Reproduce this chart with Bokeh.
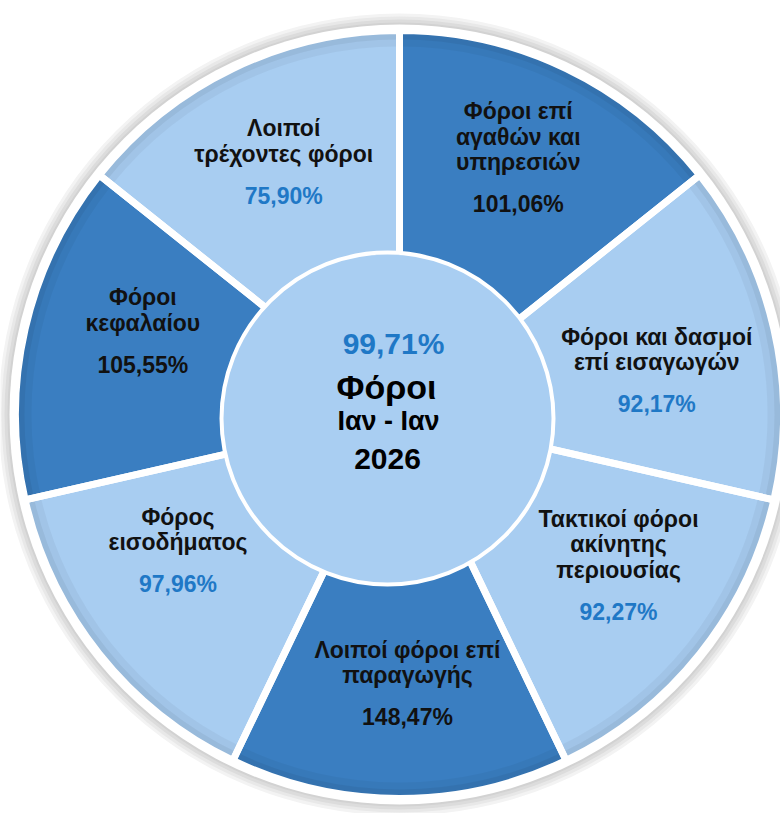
import numpy as np
from bokeh.plotting import figure
from bokeh.models import Range1d, ColumnDataSource
from bokeh.core.properties import value
from bokeh.embed import file_html
from bokeh.resources import INLINE

# ---------------- data ----------------
category_lines = [
    ["Φόροι επί", "αγαθών και", "υπηρεσιών"],
    ["Φόροι και δασμοί", "επί εισαγωγών"],
    ["Τακτικοί φόροι", "ακίνητης", "περιουσίας"],
    ["Λοιποί φόροι επί", "παραγωγής"],
    ["Φόρος", "εισοδήματος"],
    ["Φόροι", "κεφαλαίου"],
    ["Λοιποί", "τρέχοντες φόροι"],
]
achievement = [101.06, 92.17, 92.27, 148.47, 97.96, 105.55, 75.90]
segment_share = [1, 1, 1, 1, 1, 1, 1]
total_achievement = 99.71
center_title = "Φόροι"
center_period = "Ιαν - Ιαν"
center_year = "2026"

# ---------------- style / layout ----------------
DARK = "#3A7EC1"
LIGHT = "#A8CDF1"
CENTER_FILL = "#A9CEF2"
PCT_BLUE = "#1F78C6"
seg_tone = ["dark", "light", "light", "dark", "light", "dark", "light"]

CX, CY = 399, -414          # pie centre (page px, y negated)
ICX, ICY = 387, -418        # inner disc centre
R_OUT, R_IN = 384, 140
R_INNER_DISC = 166
label_radius = [283, 261, 266, 269, 260, 270, 278]
label_turn = [0.9, -3.2, 4.0, 1.7, -7.0, -5.2, -1.1]
LINE_H = 25.5
PCT_GAP = 42
FONT = value("Liberation Sans")


def fmt(v):
    return f"{v:.2f}".replace(".", ",") + "%"


shares = np.array(segment_share, dtype=float)
cum = np.concatenate([[0], np.cumsum(shares)]) / shares.sum()
end_ang = np.pi / 2 - 2 * np.pi * cum[:-1]
start_ang = np.pi / 2 - 2 * np.pi * cum[1:]
mid_ang = (start_ang + end_ang) / 2

seg_src = ColumnDataSource(dict(
    x=[CX] * len(shares), y=[CY] * len(shares),
    start=start_ang, end=end_ang,
    color=[DARK if t == "dark" else LIGHT for t in seg_tone],
))

# label positions
tx, ty, tt, tc = [], [], [], []
for i, lines in enumerate(category_lines):
    a = mid_ang[i] + np.deg2rad(label_turn[i])
    ax = CX + label_radius[i] * np.cos(a)
    ay = CY + label_radius[i] * np.sin(a)
    span = (len(lines) - 1) * LINE_H + PCT_GAP
    top = ay + span / 2
    for j, ln in enumerate(lines):
        tx.append(ax); ty.append(top - j * LINE_H); tt.append(ln); tc.append("#111111")
    tx.append(ax); ty.append(top - (len(lines) - 1) * LINE_H - PCT_GAP)
    tt.append(fmt(achievement[i]))
    tc.append("#111111" if seg_tone[i] == "dark" else PCT_BLUE)
lab_src = ColumnDataSource(dict(x=tx, y=ty, text=tt, color=tc))

# ---------------- figure ----------------
p = figure(width=780, height=813, x_range=Range1d(0, 780), y_range=Range1d(-813, 0),
           output_backend="svg", toolbar_location=None, x_axis_type=None, y_axis_type=None,
           min_border=0)
p.grid.visible = False
p.outline_line_color = None
p.background_fill_color = "white"
p.border_fill_color = "white"

# soft shadow + white rim
for r, c in [(401, "#f3f3f3"), (398, "#e8e8e8"), (395, "#dcdcdc"), (392, "#d2d2d2")]:
    p.circle(x=CX, y=CY, radius=r, fill_color=c, line_color=None)
p.circle(x=CX, y=CY, radius=390, fill_color="white", line_color=None)

# segments
p.annular_wedge(x="x", y="y", inner_radius=R_IN, outer_radius=R_OUT,
                start_angle="start", end_angle="end", fill_color="color",
                line_color=None, source=seg_src)
# subtle bevel shading toward the rim
p.annular_wedge(x="x", y="y", inner_radius=R_OUT - 16, outer_radius=R_OUT,
                start_angle="start", end_angle="end", fill_color="#000000",
                fill_alpha=0.04, line_color=None, source=seg_src)
p.annular_wedge(x="x", y="y", inner_radius=R_OUT - 9, outer_radius=R_OUT,
                start_angle="start", end_angle="end", fill_color="#000000",
                fill_alpha=0.05, line_color=None, source=seg_src)
# white separators
p.annular_wedge(x="x", y="y", inner_radius=R_IN, outer_radius=R_OUT,
                start_angle="start", end_angle="end", fill_color=None,
                line_color="white", line_width=7, source=seg_src)

# inner disc
p.circle(x=ICX, y=ICY, radius=R_INNER_DISC, fill_color=CENTER_FILL,
         line_color="white", line_width=4)

p.text(x="x", y="y", text="text", text_color="color", source=lab_src,
       text_font=FONT, text_font_style="bold", text_font_size="23px",
       text_align="center", text_baseline="middle")

p.text(x=[ICX + 6], y=[-343], text=[fmt(total_achievement)], text_color=PCT_BLUE,
       text_font=FONT, text_font_style="bold", text_font_size="30px",
       text_align="center", text_baseline="middle")
p.text(x=[ICX - 1], y=[-386], text=[center_title], text_color="#000000",
       text_font=FONT, text_font_style="bold", text_font_size="34px",
       text_align="center", text_baseline="middle")
p.text(x=[ICX + 1], y=[-420], text=[center_period], text_color="#000000",
       text_font=FONT, text_font_style="bold", text_font_size="27px",
       text_align="center", text_baseline="middle")
p.text(x=[ICX], y=[-458], text=[center_year], text_color="#000000",
       text_font=FONT, text_font_style="bold", text_font_size="30px",
       text_align="center", text_baseline="middle")

open("out.html", "w").write(file_html(p, INLINE))
